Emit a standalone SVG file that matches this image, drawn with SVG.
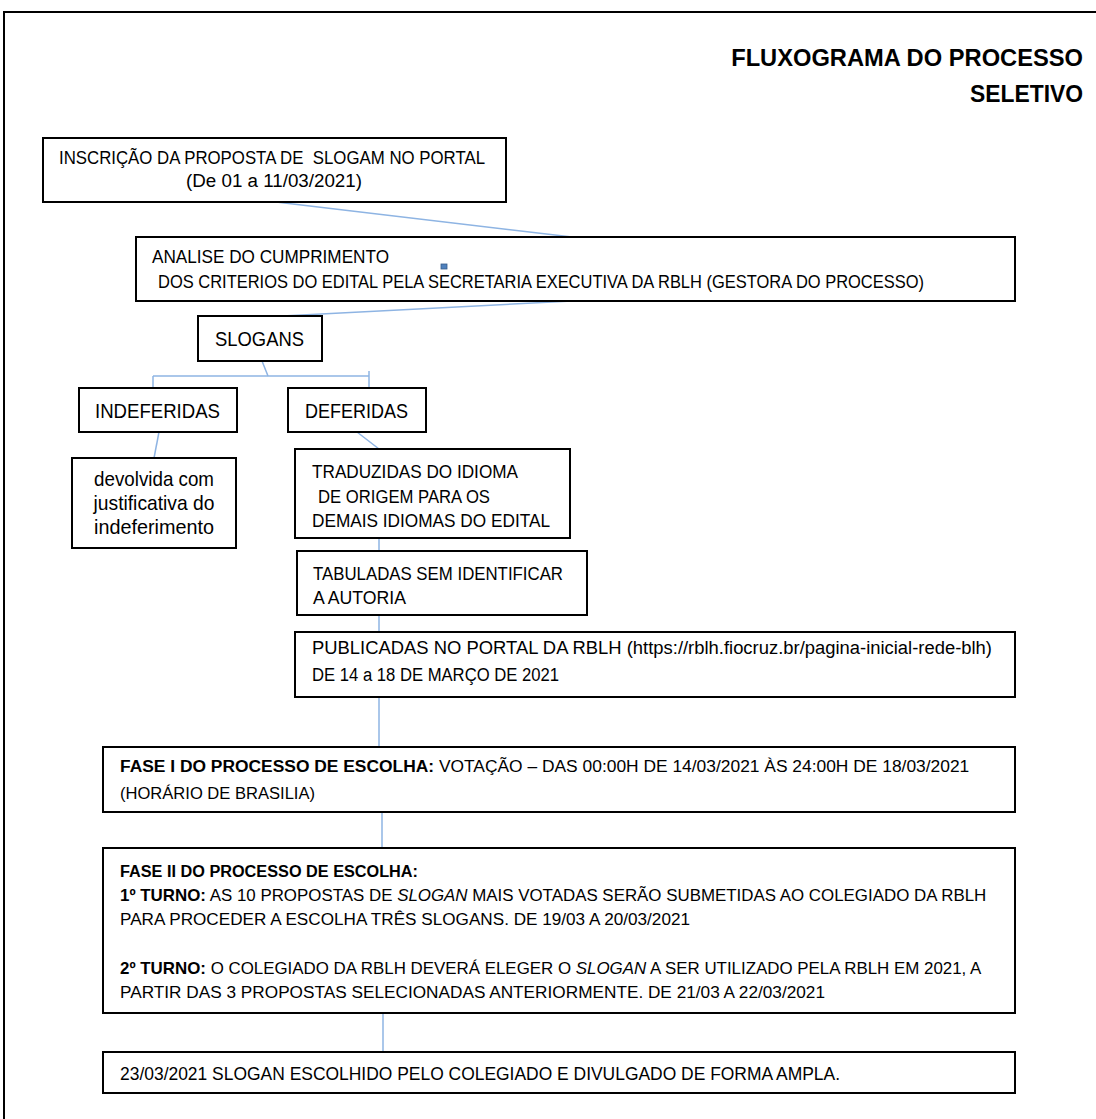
<svg xmlns="http://www.w3.org/2000/svg" width="1096" height="1119" viewBox="0 0 1096 1119">
<style>
.box{fill:#fff;stroke:#000;stroke-width:2}
.t{font-family:"Liberation Sans",Arial,sans-serif;font-size:18px;fill:#000}
.f{font-size:17.4px}
.m{font-size:16.9px}
.big{font-size:21px}
.title{font-family:"Liberation Sans",Arial,sans-serif;font-size:23.7px;font-weight:bold;fill:#000}
.b{font-weight:bold}
.i{font-style:italic}
.c{stroke:#8eb4e3;stroke-width:1.5;fill:none}
</style>
<rect x="0" y="0" width="1096" height="1119" fill="#fff"/>
<path d="M4 1119 V12 H1096" fill="none" stroke="#000" stroke-width="2"/>
<g id="title">
<text class="title" x="1083" y="66" text-anchor="end">FLUXOGRAMA DO PROCESSO</text>
<text class="title" x="1083" y="102" text-anchor="end" textLength="113" lengthAdjust="spacingAndGlyphs">SELETIVO</text>
</g>
<g id="connectors">
<line class="c" x1="276" y1="202" x2="572" y2="237"/>
<line class="c" x1="572" y1="301" x2="263" y2="317"/>
<line class="c" x1="262" y1="361" x2="268" y2="376"/>
<line class="c" x1="153" y1="376" x2="369" y2="376"/>
<line class="c" x1="153" y1="376" x2="153" y2="388"/>
<line class="c" x1="369" y1="371" x2="369" y2="388"/>
<line class="c" x1="159" y1="432" x2="154" y2="458"/>
<line class="c" x1="357" y1="432" x2="379" y2="449"/>
<line class="c" x1="379" y1="538" x2="379" y2="551"/>
<line class="c" x1="379" y1="615" x2="379" y2="632"/>
<line class="c" x1="379" y1="697" x2="379" y2="747"/>
<line class="c" x1="382" y1="812" x2="382" y2="848"/>
<line class="c" x1="383" y1="1013" x2="383" y2="1052"/>
</g>
<g id="inscricao">
<rect class="box" x="43" y="138" width="463" height="64"/>
<text class="t" x="59" y="164" xml:space="preserve" textLength="426" lengthAdjust="spacingAndGlyphs">INSCRIÇÃO DA PROPOSTA DE  SLOGAM NO PORTAL</text>
<text class="t" x="186" y="187" textLength="176" lengthAdjust="spacingAndGlyphs">(De 01 a 11/03/2021)</text>
</g>
<g id="analise">
<rect class="box" x="136" y="237" width="879" height="64"/>
<text class="t" x="152" y="263" textLength="237" lengthAdjust="spacingAndGlyphs">ANALISE DO CUMPRIMENTO</text>
<text class="t" x="158" y="288" textLength="766" lengthAdjust="spacingAndGlyphs">DOS CRITERIOS DO EDITAL PELA SECRETARIA EXECUTIVA DA RBLH (GESTORA DO PROCESSO)</text>
<rect x="441" y="264" width="6" height="5" fill="#4f81bd" stroke="#385d8a" stroke-width="0.8"/>
</g>
<g id="slogans">
<rect class="box" x="198" y="316" width="124" height="45"/>
<text class="t big" x="215" y="346" textLength="89" lengthAdjust="spacingAndGlyphs">SLOGANS</text>
</g>
<g id="indeferidas">
<rect class="box" x="79" y="388" width="158" height="44"/>
<text class="t big" x="95" y="418" textLength="125" lengthAdjust="spacingAndGlyphs">INDEFERIDAS</text>
</g>
<g id="deferidas">
<rect class="box" x="288" y="388" width="138" height="44"/>
<text class="t big" x="305" y="418" textLength="103" lengthAdjust="spacingAndGlyphs">DEFERIDAS</text>
</g>
<g id="devolvida">
<rect class="box" x="72" y="458" width="164" height="90"/>
<text class="t big" x="154" y="486" text-anchor="middle" textLength="120" lengthAdjust="spacingAndGlyphs">devolvida com</text>
<text class="t big" x="154" y="510" text-anchor="middle" textLength="121" lengthAdjust="spacingAndGlyphs">justificativa do</text>
<text class="t big" x="154" y="534" text-anchor="middle" textLength="120" lengthAdjust="spacingAndGlyphs">indeferimento</text>
</g>
<g id="traduzidas">
<rect class="box" x="295" y="449" width="275" height="89"/>
<text class="t" x="312" y="478" textLength="206" lengthAdjust="spacingAndGlyphs">TRADUZIDAS DO IDIOMA</text>
<text class="t" x="318" y="503" textLength="172" lengthAdjust="spacingAndGlyphs">DE ORIGEM PARA OS</text>
<text class="t" x="312" y="527" textLength="238" lengthAdjust="spacingAndGlyphs">DEMAIS IDIOMAS DO EDITAL</text>
</g>
<g id="tabuladas">
<rect class="box" x="297" y="551" width="290" height="64"/>
<text class="t" x="313" y="580" textLength="250" lengthAdjust="spacingAndGlyphs">TABULADAS SEM IDENTIFICAR</text>
<text class="t" x="313" y="604" textLength="93" lengthAdjust="spacingAndGlyphs">A AUTORIA</text>
</g>
<g id="publicadas">
<rect class="box" x="295" y="632" width="720" height="65"/>
<text class="t" x="312" y="654" textLength="680" lengthAdjust="spacingAndGlyphs">PUBLICADAS NO PORTAL DA RBLH (https://rblh.fiocruz.br/pagina-inicial-rede-blh)</text>
<text class="t" x="312" y="681" textLength="247" lengthAdjust="spacingAndGlyphs">DE 14 a 18 DE MARÇO DE 2021</text>
</g>
<g id="fase1">
<rect class="box" x="103" y="747" width="912" height="65"/>
<text class="t f" x="120" y="772"><tspan class="b">FASE I DO PROCESSO DE ESCOLHA:</tspan> VOTAÇÃO – DAS 00:00H DE 14/03/2021 ÀS 24:00H DE 18/03/2021</text>
<text class="t f" x="120" y="799" textLength="195" lengthAdjust="spacingAndGlyphs">(HORÁRIO DE BRASILIA)</text>
</g>
<g id="fase2">
<rect class="box" x="103" y="848" width="912" height="165"/>
<text class="t f b" x="120" y="877" textLength="298" lengthAdjust="spacingAndGlyphs">FASE II DO PROCESSO DE ESCOLHA:</text>
<text class="t m" x="120" y="901"><tspan class="b">1º TURNO:</tspan> AS 10 PROPOSTAS DE <tspan class="i">SLOGAN</tspan> MAIS VOTADAS SERÃO SUBMETIDAS AO COLEGIADO DA RBLH</text>
<text class="t f" x="120" y="925" textLength="570" lengthAdjust="spacingAndGlyphs">PARA PROCEDER A ESCOLHA TRÊS SLOGANS. DE 19/03 A 20/03/2021</text>
<text class="t m" x="120" y="974"><tspan class="b">2º TURNO:</tspan> O COLEGIADO DA RBLH DEVERÁ ELEGER O <tspan class="i">SLOGAN</tspan> A SER UTILIZADO PELA RBLH EM 2021, A</text>
<text class="t f" x="120" y="998" textLength="705" lengthAdjust="spacingAndGlyphs">PARTIR DAS 3 PROPOSTAS SELECIONADAS ANTERIORMENTE. DE 21/03 A 22/03/2021</text>
</g>
<g id="escolhido">
<rect class="box" x="103" y="1052" width="912" height="41"/>
<text class="t" x="120" y="1080" textLength="720" lengthAdjust="spacingAndGlyphs">23/03/2021 SLOGAN ESCOLHIDO PELO COLEGIADO E DIVULGADO DE FORMA AMPLA.</text>
</g>
</svg>
